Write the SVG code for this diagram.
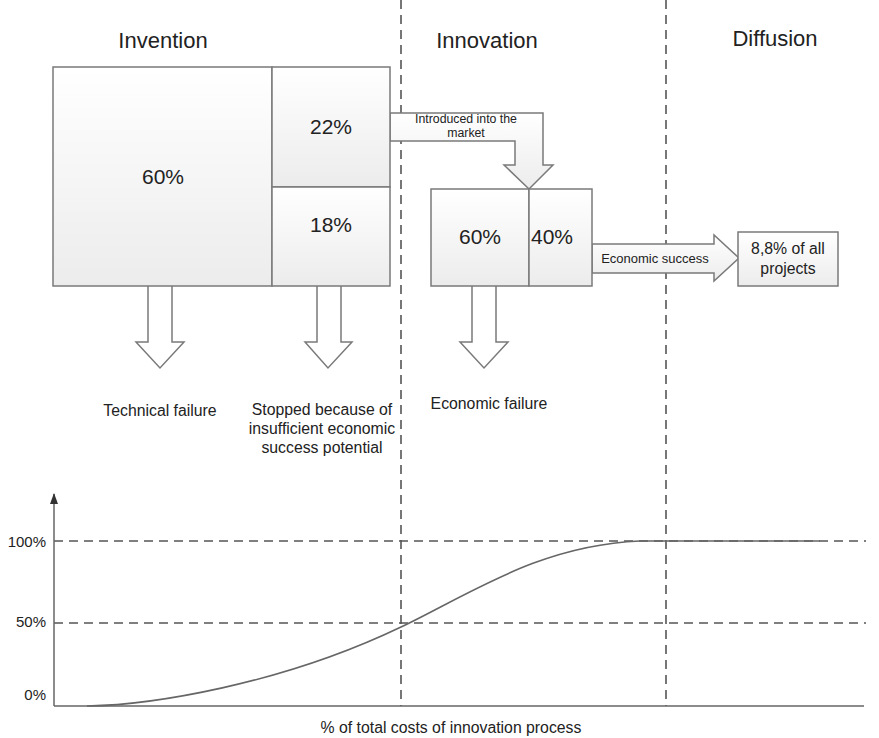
<svg xmlns="http://www.w3.org/2000/svg" width="879" height="738" viewBox="0 0 879 738">
<defs>
<linearGradient id="g" x1="0" y1="0" x2="0" y2="1"><stop offset="0" stop-color="#ffffff"/><stop offset="1" stop-color="#ececec"/></linearGradient>
<marker id="ah" markerWidth="12" markerHeight="10" refX="10" refY="5" orient="auto" markerUnits="userSpaceOnUse"><path d="M0,1 L11,5 L0,9 Z" fill="#333"/></marker>
<style>
.box{fill:url(#g);stroke:#7a7a7a;stroke-width:1.5}
.arr{fill:#ffffff;stroke:#7a7a7a;stroke-width:1.5}
.garr{fill:url(#g);stroke:#7a7a7a;stroke-width:1.5}
.dash{stroke:#555;stroke-width:1.6;stroke-dasharray:9,6;fill:none}
.ax{stroke:#666;stroke-width:1.5;fill:none}
text{font-family:"Liberation Sans",Arial,sans-serif;fill:#222}
.h{font-size:22px;text-anchor:middle}
.b{font-size:21px;text-anchor:middle}
.l{font-size:15.8px;text-anchor:middle}
.s{font-size:13px;text-anchor:middle}
.t{font-size:12.3px;text-anchor:middle}
.y{font-size:15px;text-anchor:end}
</style>
</defs>
<rect width="879" height="738" fill="#fff"/>
<g id="headers">
<text class="h" x="163" y="48">Invention</text>
<text class="h" x="487" y="48">Innovation</text>
<text class="h" x="775" y="46">Diffusion</text>
</g>
<g id="phase-lines">
<line class="dash" x1="401" y1="0" x2="401" y2="706"/>
<line class="dash" x1="666" y1="0" x2="666" y2="706"/>
</g>
<g id="connectors">
<path class="garr" d="M390,113 L543,113 L543,165 L553,165 L529,189 L504,165 L515,165 L515,141 L390,141 Z"/>
<text class="t" x="466" y="123">Introduced into the</text>
<text class="t" x="466" y="137">market</text>
<path class="garr" d="M592,244 L714,244 L714,235 L739,258 L714,281 L714,273 L592,273 Z"/>
<text class="s" x="655" y="263">Economic success</text>
<path class="arr" d="M148,286 L148,342 L136,342 L160,368 L184,342 L172,342 L172,286"/>
<path class="arr" d="M317,286 L317,342 L305,342 L328,368 L352,342 L341,342 L341,286"/>
<path class="arr" d="M472,286 L472,342 L460,342 L484,368 L508,342 L496,342 L496,286"/>
</g>
<g id="node-60">
<rect class="box" x="53" y="67" width="219" height="219"/>
<text class="b" x="163" y="184">60%</text>
</g>
<g id="node-22">
<rect class="box" x="272" y="67" width="118" height="120"/>
<text class="b" x="331" y="134">22%</text>
</g>
<g id="node-18">
<rect class="box" x="272" y="187" width="118" height="99"/>
<text class="b" x="331" y="232">18%</text>
</g>
<g id="node-inno60">
<rect class="box" x="431" y="189" width="98" height="97"/>
<text class="b" x="480" y="244">60%</text>
</g>
<g id="node-inno40">
<rect class="box" x="529" y="189" width="63" height="97"/>
<text class="b" x="552" y="244">40%</text>
</g>
<g id="node-result">
<rect class="box" x="738" y="232" width="100" height="54"/>
<text class="l" x="788" y="254">8,8% of all</text>
<text class="l" x="788" y="274">projects</text>
</g>
<g id="labels">
<text class="l" x="160" y="416">Technical failure</text>
<text class="l" x="322" y="415">Stopped because of</text>
<text class="l" x="322" y="434">insufficient economic</text>
<text class="l" x="322" y="453">success potential</text>
<text class="l" x="489" y="409">Economic failure</text>
</g>
<g id="chart">
<line class="dash" x1="54" y1="541" x2="866" y2="541"/>
<line class="dash" x1="54" y1="623" x2="866" y2="623"/>
<line class="ax" x1="54" y1="706" x2="54" y2="494" marker-end="url(#ah)"/>
<line class="ax" x1="54" y1="706" x2="864" y2="706"/>
<path d="M87,706 C150,705 280,685 401,627 C470,594 540,545 640,541 L820,541" fill="none" stroke="#666" stroke-width="1.6"/>
<text class="y" x="46" y="547">100%</text>
<text class="y" x="46" y="627">50%</text>
<text class="y" x="46" y="700">0%</text>
<text class="l" x="451" y="733">% of total costs of innovation process</text>
</g>
</svg>
